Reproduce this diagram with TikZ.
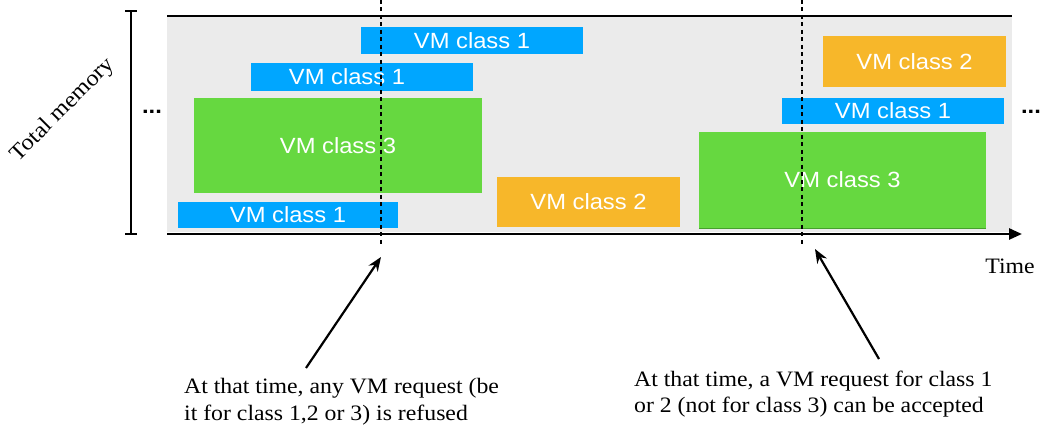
\documentclass[tikz,border=0pt]{standalone}
\usepackage{fontspec}
\setmainfont{Liberation Serif}[FakeStretch=1.08]
\newfontfamily\boxfont{Liberation Sans}[FakeStretch=1.08]
\usetikzlibrary{arrows.meta}
\definecolor{vmblue}{RGB}{0,166,255}
\definecolor{vmgreen}{RGB}{102,216,64}
\definecolor{vmgreendark}{RGB}{70,160,45}
\definecolor{vmorange}{RGB}{247,183,42}
\definecolor{bggrey}{RGB}{235,235,235}
\tikzset{
  vm/.style={inner sep=0pt, text=white, font=\boxfont\fontsize{22bp}{26bp}\selectfont},
  blue/.style={vm, fill=vmblue},
  green/.style={vm, fill=vmgreen},
  orange/.style={vm, fill=vmorange},
  axisline/.style={line width=2.6bp, black},
  timeline/.style={line width=2.4bp, black, dash pattern=on 4bp off 3.5bp},
  pointer/.style={line width=2.2bp, -{Stealth[length=14bp,width=11bp]}},
  note/.style={inner sep=0pt, align=left, font=\fontsize{22bp}{26.5bp}\selectfont},
  dots/.style={inner sep=0pt, font=\boxfont\bfseries\fontsize{22bp}{26bp}\selectfont}
}
\begin{document}
\begin{tikzpicture}[x=1bp,y=-1bp]
\useasboundingbox (0,0) rectangle (1041,435);
% background band
\fill[bggrey] (167,17) rectangle (1012,232);
\draw[axisline] (167,16) -- (1012,16);
% time axis
\coordinate (ax0) at (167,234);
\coordinate (ax1) at (1022,234);
\draw[axisline, -{Triangle[length=13bp,width=11bp]}] (ax0) -- (ax1);
% memory bracket
\coordinate (mt) at (131,11);
\coordinate (mb) at (131,234);
\draw[line width=2.4bp] (mt) -- (mb);
\draw[line width=2.4bp] ([xshift=-6bp]mt) -- ([xshift=6bp]mt);
\draw[line width=2.4bp] ([xshift=-6bp]mb) -- ([xshift=6bp]mb);
\node[rotate=45, inner sep=0pt, font=\fontsize{22.5bp}{24bp}\selectfont] (tm) at (63,110) {Total memory};
% dots
\node[dots] (dl) at (152,112) {...};
\node[dots] (dr) at (1031,112) {...};
% VM boxes
\node[blue, minimum width=222bp, minimum height=27bp] (b1) at (472,40.5) {VM class 1};
\node[blue, minimum width=222bp, minimum height=28bp] (b2) at (362,77) {\hspace*{-30bp}VM class 1};
\node[green, minimum width=288bp, minimum height=95bp] (g1) at (338,145.5) {VM class 3};
\node[blue, minimum width=220bp, minimum height=26bp] (b3) at (288,215) {VM class 1};
\node[orange, minimum width=183bp, minimum height=50bp] (o1) at (588.5,202) {VM class 2};
\node[orange, minimum width=183bp, minimum height=51bp] (o2) at (914.5,61.5) {VM class 2};
\node[blue, minimum width=222bp, minimum height=26bp] (b4) at (893,111) {VM class 1};
\node[green, minimum width=287bp, minimum height=96bp] (g2) at (842.5,180) {VM class 3};
\draw[vmgreendark, line width=1.2bp] (g2.south west) -- (g2.south east);
% time instants
\coordinate (t1top) at (381,0);
\coordinate (t1bot) at (381,246);
\coordinate (t2top) at (802,0);
\coordinate (t2bot) at (802,246);
\draw[timeline] (t1top) -- (t1bot);
\draw[timeline] (t2top) -- (t2bot);
\node[inner sep=0pt, font=\fontsize{22bp}{24bp}\selectfont] (time) at (1010,266) {Time};
% notes
\node[note, anchor=base west] (n1) at (184,420) {At that time, any VM request (be\\it for class 1,2 or 3) is refused};
\node[note, anchor=base west] (n2) at (634,413) {At that time, a VM request for class 1\\or 2 (not for class 3) can be accepted};
\coordinate (p1tail) at (306,368);
\coordinate (p1tip) at (381,257);
\coordinate (p2tail) at (879,359);
\coordinate (p2tip) at (815,249);
\draw[pointer] (p1tail) -- (p1tip);
\draw[pointer] (p2tail) -- (p2tip);
\end{tikzpicture}
\end{document}
